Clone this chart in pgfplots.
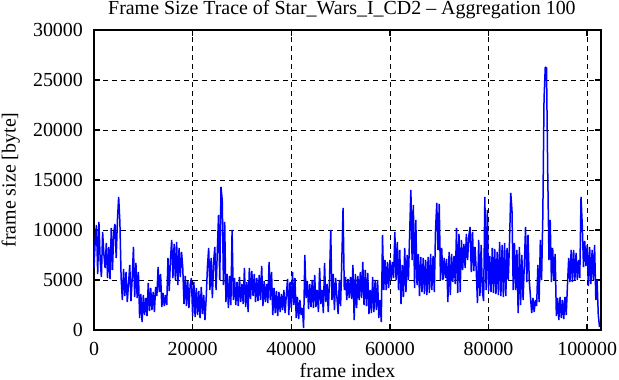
\documentclass[border=0pt]{standalone}
\usepackage{fontspec}
\setmainfont{Liberation Serif}
\usepackage{pgfplots}
\usepackage{pgfplotstable}
\pgfplotsset{compat=1.18}
\pgfplotstableread{
y
6200
9000
10500
5600
10800
7000
5300
9800
7600
6200
8700
5200
8300
5100
10200
6000
9800
10600
7200
11000
13300
10800
5200
3000
6100
3400
5800
2800
4600
6500
2900
5200
8300
3300
6700
3200
5800
1200
3600
800
3500
1500
3200
1400
4700
1900
4200
2000
3800
1800
4300
3400
6300
3800
5600
2300
3700
2400
3500
2500
7200
3900
7000
9000
5200
8600
5000
8800
4500
8200
5300
7800
6200
2600
5400
2400
4900
2200
4500
5200
1400
4800
1300
4200
1500
3900
1200
4300
1600
3500
1000
3200
6300
8200
4000
7200
3200
6800
8300
4000
7800
11500
5000
14300
13000
4500
10800
2800
5600
2200
5400
2500
10000
3000
5200
2500
4800
2400
5300
2800
4600
2600
6200
2300
4800
1800
6200
3100
5900
3400
5600
2800
5200
2900
5500
3000
6400
2400
4900
2800
4600
2700
6800
3000
5800
1500
4200
1700
3900
1400
3800
1800
3600
2000
4000
1700
3500
5100
1500
4800
2200
5800
2500
5200
1200
3300
1100
3000
1500
2200
200
7500
3200
4900
2100
4600
2300
5000
2200
5500
2300
4000
1800
6200
2600
4000
1700
6700
2800
4600
1800
5000
10000
3000
5600
2000
5200
3300
1600
5000
2400
7000
12200
4000
5300
3000
5100
3200
5300
3100
6500
1000
5600
2200
5400
3000
5800
3200
6800
2500
6000
2400
5700
1600
4000
1700
5300
1800
5000
2000
5000
1200
3000
800
9500
4000
7000
4000
6800
4200
7000
5000
6800
5200
9800
5000
8800
4000
8000
2600
6500
3300
8200
3800
7500
5000
9600
14000
7000
12500
4200
11000
4500
7600
3400
7300
3800
7200
3600
7000
3500
7300
3700
7600
4000
7400
3800
10000
12700
8000
12600
5000
8200
5000
7200
5200
7100
2800
7800
3500
7600
4800
7400
4600
10200
3700
9600
3800
9000
6000
8600
6200
9600
7000
9400
10300
5800
9800
5900
8300
6000
2700
9000
3400
8500
3800
2900
13300
4000
12000
3900
7400
3800
8200
3700
8100
3600
7800
3500
8800
3400
8500
3300
8700
3400
8200
5000
8800
13700
12000
4000
8700
4000
8000
1700
8300
2500
7500
3000
6500
10300
4800
9500
5000
3300
1700
3200
1800
3000
2400
6500
2800
9000
5000
11300
23100
26300
26200
15700
7000
11000
4800
8200
5000
7600
1400
3200
1000
3300
1200
3000
1100
3300
1500
4500
7200
4800
8000
4800
8000
5000
7700
5000
7000
5200
13300
10500
6300
8900
6400
8500
4400
8300
4600
8000
5000
8500
3000
5000
1500
300
}\trace
\begin{document}
\fontsize{20}{24}\selectfont
\begin{tikzpicture}
\begin{axis}[
  name=ax,
  scale only axis,
  width=507bp, height=300bp,
  xmin=0, xmax=102800, ymin=0, ymax=30000,
  xtick={0,20000,40000,60000,80000,100000},
  ytick={0,5000,10000,15000,20000,25000,30000},
  scaled ticks=false,
  /pgf/number format/assume math mode=true,
  /pgf/number format/fixed,
  /pgf/number format/set thousands separator={},
  tick label style={font=\fontsize{20}{24}\selectfont},
  label style={font=\fontsize{20}{24}\selectfont},
  every axis title shift=0pt,
  title style={font=\fontsize{20}{24}\selectfont, at={(axis description cs:0.489,1.05)}, anchor=base},
  xlabel style={at={(axis description cs:0.5,-0.157)}, anchor=base},
  ylabel style={at={(axis description cs:-0.1548,0.5)}, anchor=base},
  xticklabel style={anchor=base, yshift=-25bp},
  yticklabel style={xshift=-4.3bp},
  tick align=inside,
  major tick length=6bp,
  tick style={black, line width=1.4bp},
  grid=major,
  grid style={black, dash pattern=on 5bp off 4bp, line width=0.8bp},
  axis line style={black, line width=1.6bp},
  title={Frame Size Trace of Star\_Wars\_I\_CD2 -- Aggregation 100},
  xlabel={frame index},
  ylabel={frame size [byte]},
]
\addplot[color={rgb,255:red,0;green,0;blue,255}, line width=1.5bp, mark=none, line join=miter, miter limit=2]
  table[x expr=\coordindex*250, y=y] {\trace};
\end{axis}
\pgfresetboundingbox
\path ([xshift=-94bp,yshift=-50bp]ax.south west) rectangle ([xshift=18bp,yshift=30bp]ax.north east);
\end{tikzpicture}
\end{document}
